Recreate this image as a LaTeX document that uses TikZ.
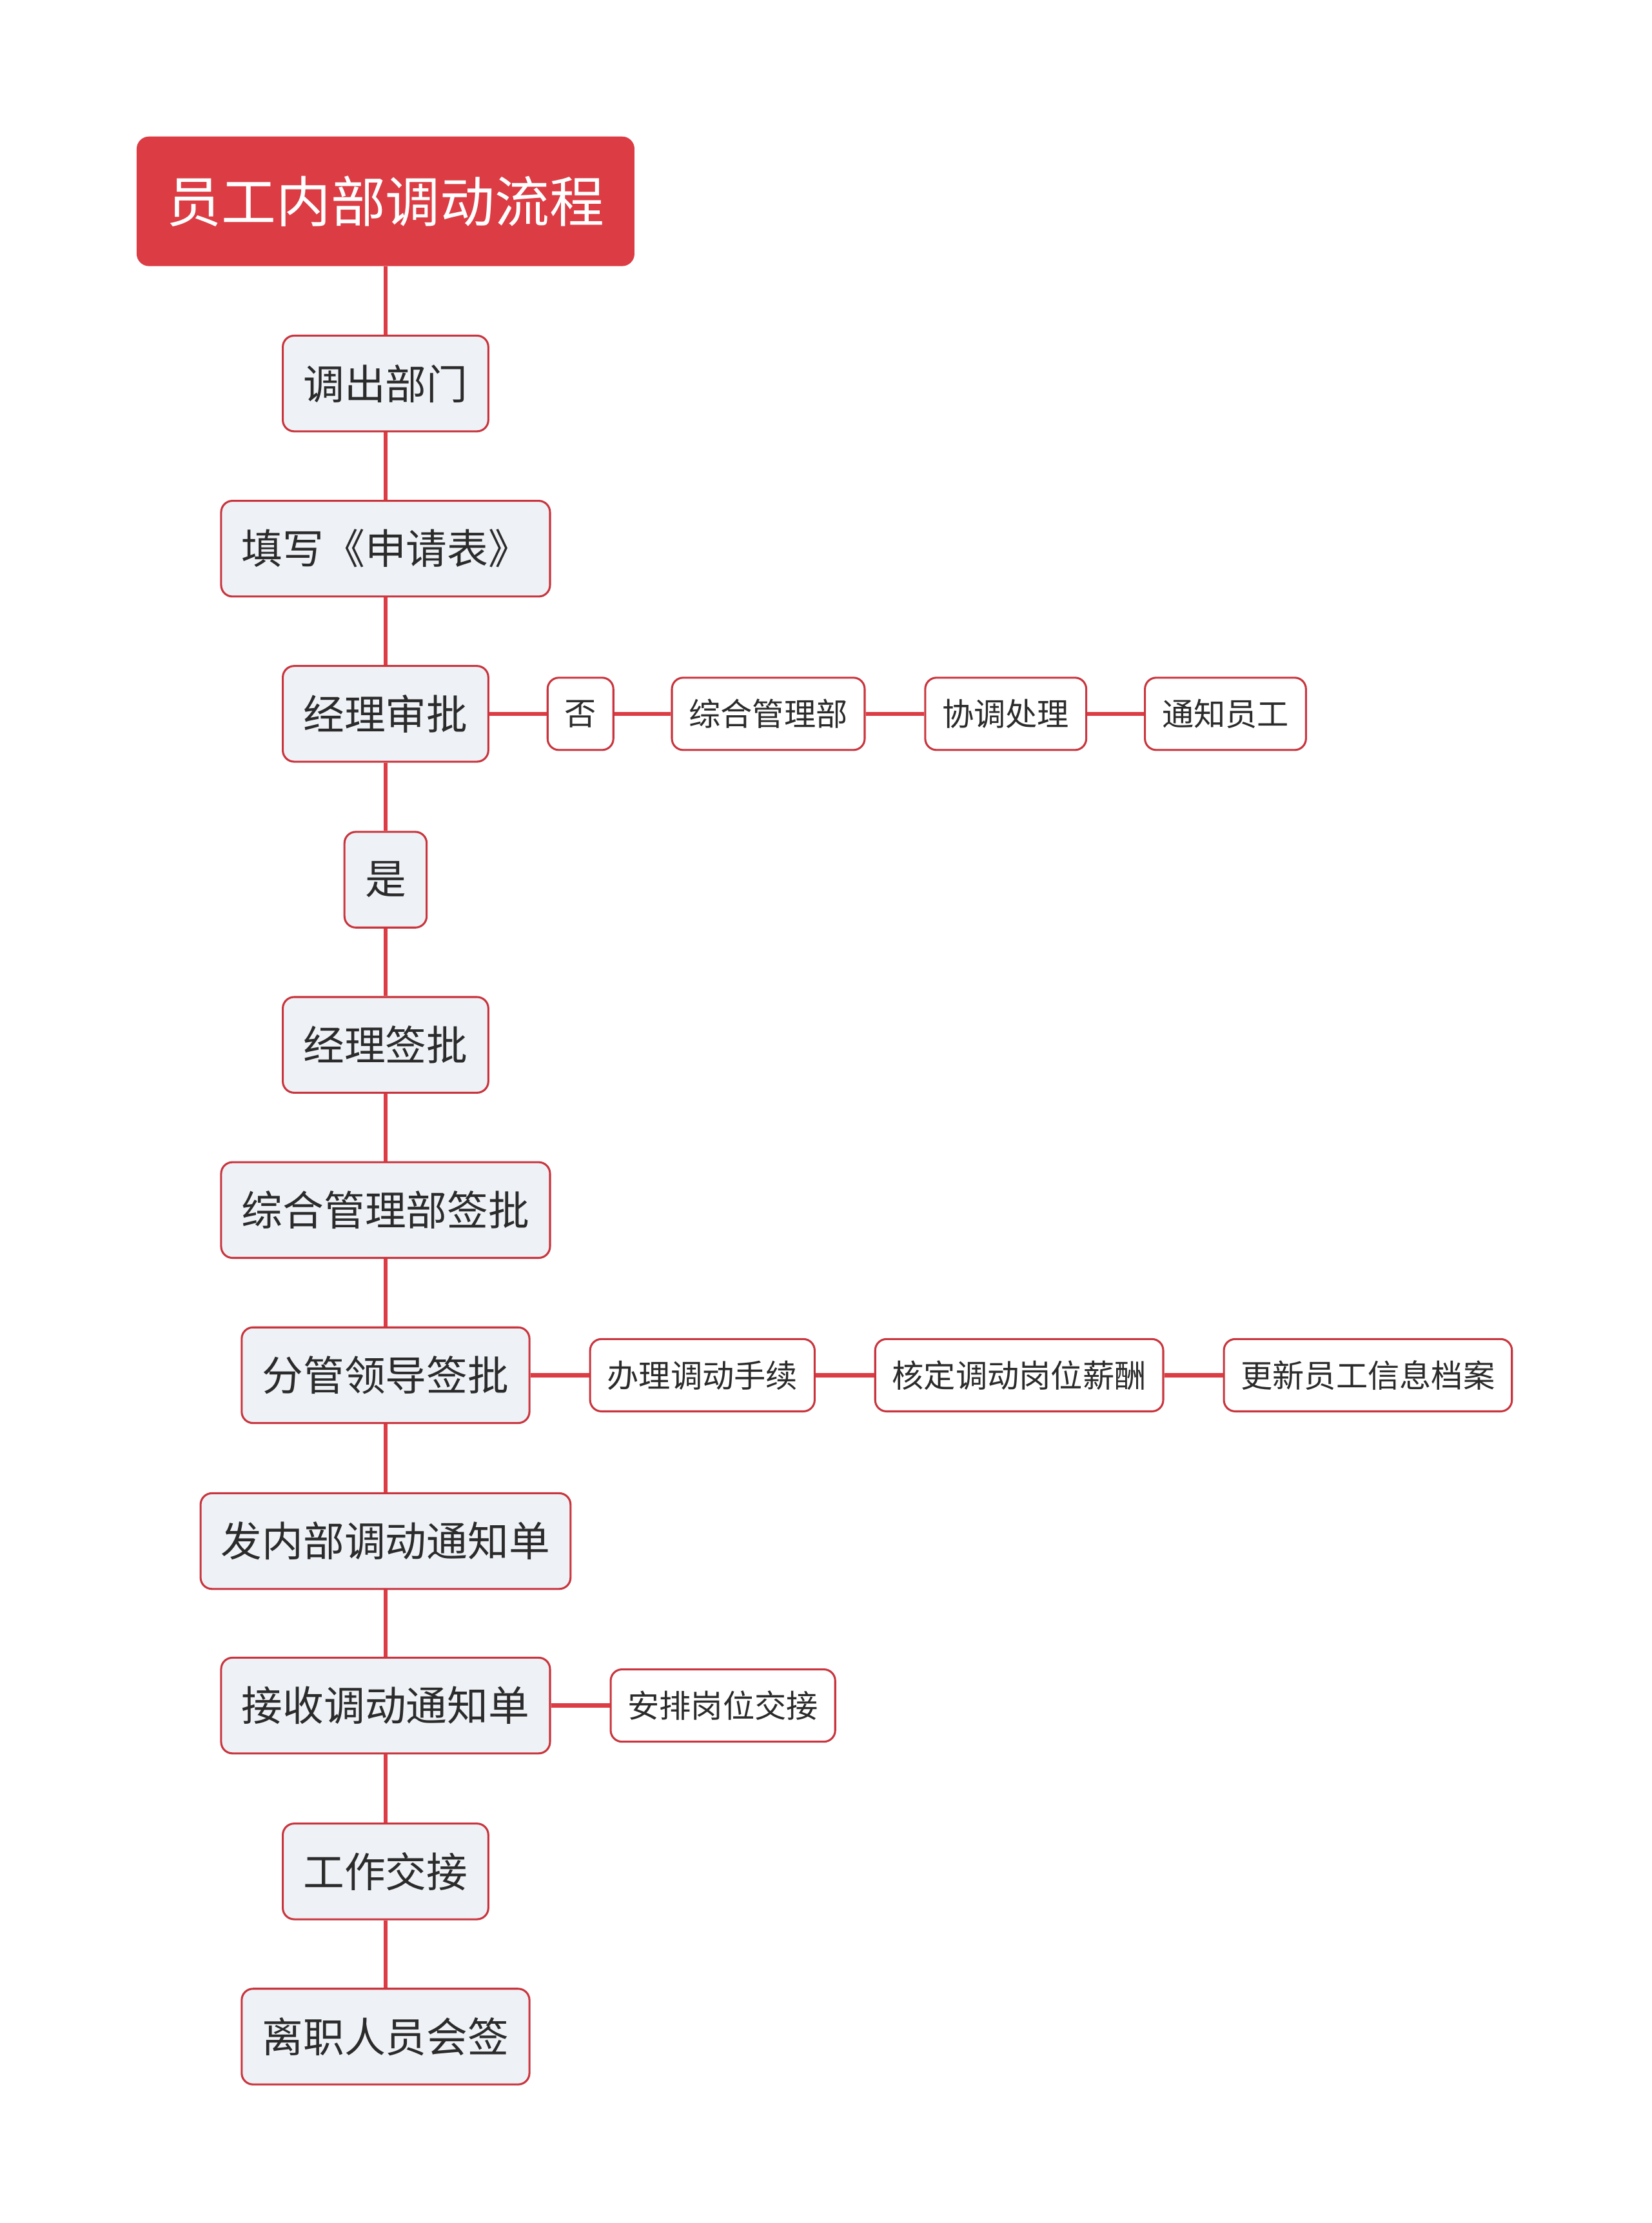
\documentclass[tikz,border=0pt]{standalone}
\usepackage{fontspec}
\newfontfamily\cjk{Noto Sans CJK SC}
\definecolor{mred}{HTML}{DC3C44}
\definecolor{bred}{HTML}{C9353E}
\definecolor{mfill}{HTML}{EEF1F5}
\definecolor{mtext}{HTML}{2B2B2B}
\begin{document}
\begin{tikzpicture}[x=1pt,y=-1pt,
  rootbox/.style={draw=mred,fill=mred,line width=1.4pt,rounded corners=8pt,text=white,font=\cjk\fontsize{38.6}{40}\selectfont,inner xsep=20.5pt,inner ysep=0pt,minimum height=90pt},
  mainbox/.style={draw=bred,fill=mfill,line width=1.4pt,rounded corners=8pt,text=mtext,font=\cjk\fontsize{29}{31}\selectfont,inner xsep=14.5pt,inner ysep=0pt,minimum height=67.5pt},
  sidebox/.style={draw=bred,fill=white,line width=1.4pt,rounded corners=8pt,text=mtext,font=\cjk\fontsize{22.4}{24}\selectfont,inner xsep=12pt,inner ysep=0pt,minimum height=51pt},
  link/.style={draw=mred,line width=3pt}]
\useasboundingbox (0,0) rectangle (1165,1568);
\node[rootbox] (root) at (272,142) {员工内部调动流程};
\node[mainbox] (n1) at (272,270.5) {调出部门};
\node[mainbox] (n2) at (272,387) {填写《申请表》};
\node[mainbox] (n3) at (272,503.5) {经理审批};
\node[mainbox] (n4) at (272,620.5) {是};
\node[mainbox] (n5) at (272,737) {经理签批};
\node[mainbox] (n6) at (272,853.5) {综合管理部签批};
\node[mainbox] (n7) at (272,970) {分管领导签批};
\node[mainbox] (n8) at (272,1087) {发内部调动通知单};
\node[mainbox] (n9) at (272,1203) {接收调动通知单};
\node[mainbox] (n10) at (272,1320) {工作交接};
\node[mainbox] (n11) at (272,1436.5) {离职人员会签};
\node[sidebox] (a1) at (409.5,503.5) {否};
\node[sidebox] (a2) at (542,503.5) {综合管理部};
\node[sidebox] (a3) at (709.5,503.5) {协调处理};
\node[sidebox] (a4) at (864.5,503.5) {通知员工};
\node[sidebox] (b1) at (495.5,970) {办理调动手续};
\node[sidebox] (b2) at (719,970) {核定调动岗位薪酬};
\node[sidebox] (b3) at (965,970) {更新员工信息档案};
\node[sidebox] (c1) at (510,1203) {安排岗位交接};
\draw[link] (root.south) -- (n1.north);
\foreach \a/\b in {n1/n2,n2/n3,n3/n4,n4/n5,n5/n6,n6/n7,n7/n8,n8/n9,n9/n10,n10/n11}
  \draw[link] (\a.south) -- (\b.north);
\foreach \a/\b in {n3/a1,a1/a2,a2/a3,a3/a4,n7/b1,b1/b2,b2/b3,n9/c1}
  \draw[link] (\a.east) -- (\b.west);
\end{tikzpicture}
\end{document}
